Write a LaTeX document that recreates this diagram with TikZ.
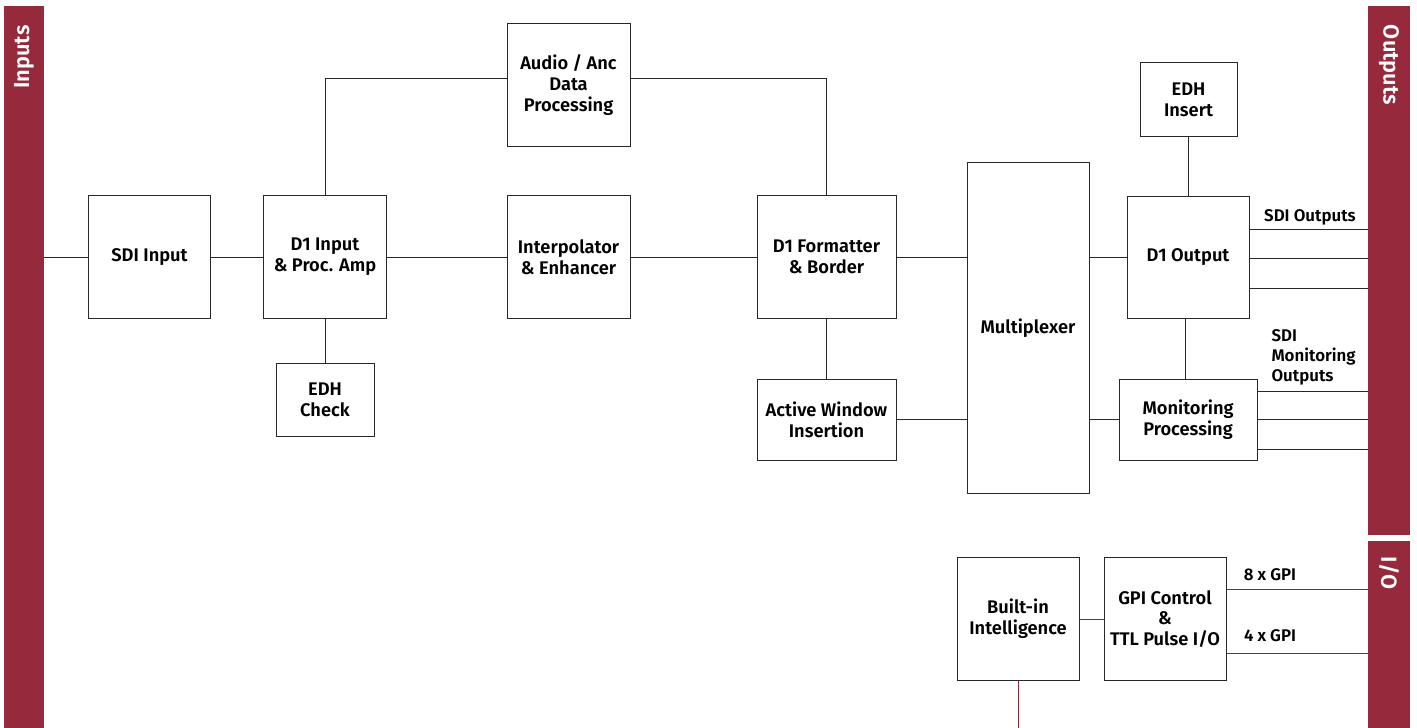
\documentclass[tikz,border=0pt]{standalone}
\usepackage{fontspec}
\setmainfont{Fira Sans}[BoldFont={Fira Sans SemiBold}]
\definecolor{barred}{RGB}{150,42,60}
\definecolor{linered}{RGB}{140,36,52}
\definecolor{boxline}{RGB}{40,40,40}

\begin{document}
\begin{tikzpicture}[x=0.025cm, y=-0.025cm, line width=0.7pt,
  blk/.style={draw=boxline, inner sep=0pt, align=center, font=\fontsize{13}{14.7}\selectfont\bfseries},
  lbl/.style={font=\fontsize{12}{14.2}\selectfont\bfseries, inner sep=0pt},
  bar/.style={fill=barred, draw=none},
  bartxt/.style={white, font=\fontsize{15.5}{18}\selectfont\bfseries}]
\useasboundingbox (0,0) rectangle (1417,728);

% side bars
\fill[bar] (4,6) rectangle (44,728);
\fill[bar] (1368,6) rectangle (1410,535);
\fill[bar] (1368,541) rectangle (1410,728);
\node[bartxt, rotate=90] at (24,57) {Inputs};
\node[bartxt, rotate=-90] at (1389,65) {Outputs};
\node[bartxt, rotate=-90] at (1389,573) {I/O};

% the blocks
\node[blk, minimum width=3.025cm, minimum height=3.05cm] (sdi) at (149.5,257) {SDI Input};
\node[blk, minimum width=3.05cm, minimum height=3.05cm] (d1in) at (325,257) {D1 Input\\\& Proc. Amp};
\node[blk, minimum width=2.45cm, minimum height=1.825cm] (edhchk) at (325,399.5) {EDH\\Check};
\node[blk, minimum width=3.075cm, minimum height=3.05cm] (audio) at (568.5,85) {Audio / Anc\\Data\\Processing};
\node[blk, minimum width=3.075cm, minimum height=3.05cm] (interp) at (568.5,257) {Interpolator\\\& Enhancer};
\node[blk, minimum width=3.475cm, minimum height=3.05cm] (fmt) at (826.5,257) {D1 Formatter\\\& Border};
\node[blk, minimum width=3.475cm, minimum height=2.025cm] (awin) at (826.5,419.5) {Active Window\\Insertion};
\node[blk, minimum width=3.05cm, minimum height=8.25cm] (mux) at (1028,328) {Multiplexer};
\node[blk, minimum width=2.425cm, minimum height=1.825cm] (edhins) at (1188.5,99.5) {EDH\\Insert};
\node[blk, minimum width=3.05cm, minimum height=3.025cm] (d1out) at (1188,257.5) {D1 Output};
\node[blk, minimum width=3.45cm, minimum height=2.025cm] (mon) at (1188,419.5) {Monitoring\\Processing};
\node[blk, minimum width=3.05cm, minimum height=3.05cm] (brain) at (1018,619) {Built-in\\Intelligence};
\node[blk, minimum width=3.05cm, minimum height=3.05cm] (gpi) at (1165,619) {GPI Control\\\&\\TTL Pulse I/O};

% ends on the bars
\coordinate (in) at (44,257);
\coordinate (o1) at (1368,229);
\coordinate (o2) at (1368,258);
\coordinate (o3) at (1368,288);
\coordinate (m1) at (1368,391);
\coordinate (m2) at (1368,419);
\coordinate (m3) at (1368,449);
\coordinate (g1) at (1368,589);
\coordinate (g2) at (1368,653);
\coordinate (down) at (1018,728);

% video path
\draw[boxline] (in) -- (sdi);
\draw[boxline] (sdi) -- (d1in);
\draw[boxline] (d1in) -- (interp);
\draw[boxline] (interp) -- (fmt);
\draw[boxline] (d1in.north) |- ([yshift=0.175cm]audio.west);
\draw[boxline] ([yshift=0.175cm]audio.east) -| (fmt.north);
\draw[boxline] (d1in) -- (edhchk);
\draw[boxline] (fmt) -- (awin);
\draw[boxline] (fmt.east) -- (fmt.east -| mux.west);
\draw[boxline] (awin.east) -- (awin.east -| mux.west);
\draw[boxline] (d1out.west -| mux.east) -- (d1out.west);
\draw[boxline] (mon.west -| mux.east) -- (mon.west);
\draw[boxline] (edhins) -- (edhins.south |- d1out.north);
\draw[boxline] (d1out.south -| 1185,0) -- (mon.north -| 1185,0);

% outputs
\draw[boxline] (d1out.east |- o1) -- (o1);
\draw[boxline] (d1out.east |- o2) -- (o2);
\draw[boxline] (d1out.east |- o3) -- (o3);
\draw[boxline] (mon.east |- m1) -- (m1);
\draw[boxline] (mon.east |- m2) -- (m2);
\draw[boxline] (mon.east |- m3) -- (m3);
\node[lbl] (sdiout) at (1310,217) {SDI Outputs};
\node[lbl, anchor=west, align=left] (monout) at (1271,357) {SDI\\Monitoring\\Outputs};

% control
\draw[linered] (brain) -- (gpi);
\draw[linered] (gpi.east |- g1) -- (g1);
\draw[linered] (gpi.east |- g2) -- (g2);
\draw[linered] (brain) -- (down);
\node[lbl] (gpi8) at (1270,575) {8 x GPI};
\node[lbl] (gpi4) at (1270,636) {4 x GPI};
\end{tikzpicture}
\end{document}
